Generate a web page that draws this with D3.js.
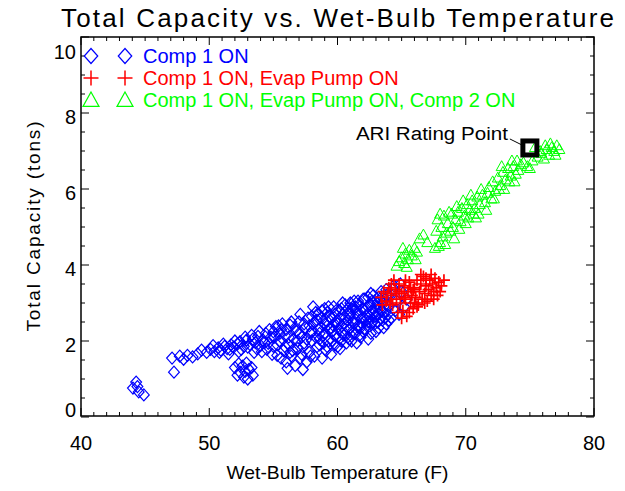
<!DOCTYPE html>
<html>
<head>
<meta charset="utf-8">
<script src="https://cdn.jsdelivr.net/npm/d3@7"></script>
<style>
  body { margin: 0; background: #fff; }
  svg { display: block; font-family: "Liberation Sans", Arial, sans-serif; }
</style>
</head>
<body>
<div id="chart"></div>
<script>
// Comp 1 ON only: [wet-bulb F, capacity tons]
const comp1Only = [
  [44.05, 0.76], [44.3, 0.92], [44.5, 0.66], [44.9, 0.58], [44.4, 0.8],
  [47.1, 1.55], [47.25, 1.18], [47.7, 1.6], [48.0, 1.52], [48.3, 1.62], [48.7, 1.58],
  [49.1, 1.66], [49.4, 1.76], [49.8, 1.7],
  [50.1, 1.78], [50.4, 1.72], [50.7, 1.82], [50.9, 1.76], [51.2, 1.86], [51.4, 1.8],
  [51.7, 1.9], [51.9, 1.84], [52.2, 1.92], [52.4, 1.98], [52.7, 1.86], [52.9, 2.02],
  [51.5, 1.66], [52.3, 1.72],
  [50.3, 1.88], [50.8, 1.7], [51.1, 1.92], [51.6, 1.78], [52.0, 2.0], [52.5, 1.78],
  [53.0, 1.84], [53.3, 2.15], [53.9, 2.25], [54.1, 1.72], [54.3, 1.95], [54.7, 2.3],
  [54.9, 1.65], [53.5, 1.7], [52.8, 2.1],
  [52.0, 1.3], [52.3, 1.4], [52.6, 1.34], [52.9, 1.42], [52.4, 1.18], [52.8, 1.2],
  [53.1, 1.25], [53.4, 1.1], [52.7, 1.05], [53.0, 1.0], [53.3, 1.3], [52.2, 1.1],
  [53.2, 1.9], [53.4, 2.05], [53.6, 1.96], [53.8, 2.12], [54.0, 1.88], [54.2, 2.02],
  [54.4, 2.2], [54.6, 1.94], [54.8, 2.1], [55.0, 2.24], [53.7, 1.8], [54.5, 1.78],
  [55.0, 1.86], [55.2, 2.38],
  [55.3, 1.62], [55.5, 2.0], [55.6, 2.3], [55.8, 1.75], [55.9, 2.15], [56.0, 1.45],
  [56.2, 1.9], [56.3, 2.42], [56.4, 1.6], [56.6, 2.05], [56.7, 1.35], [56.8, 2.25],
  [56.9, 1.8], [57.0, 2.5], [57.1, 1.55], [57.2, 2.1], [57.4, 1.95], [57.5, 2.35],
  [57.6, 1.45], [57.7, 2.6], [57.8, 1.7], [57.9, 2.2], [58.0, 2.0], [55.4, 2.4],
  [56.1, 1.28], [57.3, 1.25],
  [55.1, 2.1], [55.3, 1.9], [55.5, 2.2], [55.7, 2.45], [55.9, 1.85], [56.0, 2.3],
  [56.2, 2.1], [56.4, 2.5], [56.5, 1.75], [56.7, 2.35], [56.9, 2.0], [57.0, 2.2],
  [57.1, 2.7], [57.3, 1.85], [57.4, 2.45], [57.6, 2.05], [57.8, 2.4], [57.9, 1.6],
  [58.0, 2.65], [55.6, 1.55], [56.3, 1.7], [57.2, 1.65],
  [58.1, 2.45], [58.2, 1.6], [58.3, 2.75], [58.4, 1.85], [58.5, 2.3], [58.6, 2.05],
  [58.7, 2.6], [58.8, 1.55], [58.9, 2.15], [59.0, 2.85], [59.1, 1.75], [59.2, 2.4],
  [59.3, 2.0], [59.4, 2.65], [59.5, 1.65], [59.6, 2.25], [59.7, 2.9], [59.8, 1.9],
  [59.9, 2.5], [60.0, 2.1], [58.4, 2.55], [59.2, 2.75], [58.9, 1.95], [59.8, 2.7],
  [59.5, 2.35],
  [58.0, 2.25], [58.2, 2.5], [58.3, 2.1], [58.5, 2.7], [58.6, 1.9], [58.7, 2.35],
  [58.8, 2.8], [59.0, 2.2], [59.1, 2.55], [59.2, 1.85], [59.3, 2.9], [59.4, 2.3],
  [59.5, 2.6], [59.6, 2.0], [59.7, 2.4], [59.8, 2.15], [59.9, 2.8], [60.0, 2.45],
  [60.0, 1.85], [58.1, 2.9], [59.0, 2.45], [58.6, 2.2],
  [60.1, 2.8], [60.2, 1.8], [60.3, 2.4], [60.4, 3.0], [60.5, 2.15], [60.6, 2.6],
  [60.7, 1.95], [60.8, 2.85], [60.9, 2.3], [61.0, 2.7], [61.1, 2.0], [61.2, 2.5],
  [61.3, 3.05], [61.4, 2.2], [61.5, 2.75], [61.6, 2.4], [61.7, 2.95], [61.8, 2.1],
  [61.9, 2.6], [62.0, 2.85], [60.3, 2.0], [60.8, 2.55], [61.5, 1.95], [61.2, 2.9],
  [60.6, 2.3], [61.8, 2.35],
  [60.1, 2.3], [60.2, 2.6], [60.3, 2.85], [60.4, 2.2], [60.5, 2.45], [60.6, 2.95],
  [60.7, 2.4], [60.8, 2.1], [60.9, 2.7], [61.0, 2.35], [61.1, 2.85], [61.2, 2.2],
  [61.3, 2.6], [61.4, 2.9], [61.5, 2.3], [61.6, 2.65], [61.7, 2.15], [61.8, 2.8],
  [61.9, 2.45], [62.0, 3.1], [62.0, 2.25], [60.4, 2.7], [61.0, 3.0], [61.6, 3.05],
  [60.9, 2.05], [61.3, 2.45],
  [62.1, 3.1], [62.2, 2.3], [62.3, 2.7], [62.4, 2.5], [62.5, 2.95], [62.6, 2.2],
  [62.7, 2.8], [62.8, 3.2], [62.9, 2.45], [63.0, 2.65], [63.1, 3.0], [63.2, 2.35],
  [63.3, 2.85], [63.4, 3.3], [63.5, 2.55], [63.6, 2.75], [63.7, 3.1], [63.8, 2.45],
  [63.9, 2.95], [64.0, 3.2], [62.4, 2.05], [63.0, 2.25], [63.6, 2.35], [62.7, 3.05],
  [63.2, 3.15],
  [62.1, 2.6], [62.2, 2.85], [62.3, 2.4], [62.4, 3.15], [62.5, 2.65], [62.6, 2.95],
  [62.7, 2.5], [62.8, 2.75], [62.9, 3.05], [63.0, 2.9], [63.1, 2.5], [63.2, 2.7],
  [63.3, 3.1], [63.4, 2.6], [63.5, 3.0], [63.6, 2.9], [63.7, 2.6], [63.8, 3.2],
  [63.9, 2.7], [64.0, 2.9], [62.2, 2.55], [62.9, 2.65], [63.5, 2.8], [64.0, 2.55],
  [62.6, 3.25], [63.8, 3.35],
  [64.2, 2.6], [64.3, 3.35], [64.5, 2.8], [64.6, 3.05], [64.8, 2.7], [65.0, 3.3],
  [65.2, 2.9], [65.4, 3.1], [64.4, 3.45], [64.9, 3.5]
];

// Comp 1 ON, Evap Pump ON
const evapPumpOn = [
  [63.4, 3.15], [63.6, 3.3], [63.8, 3.05], [64.0, 3.4], [64.2, 3.2], [64.3, 2.95],
  [64.5, 3.35], [64.6, 3.1], [64.8, 3.5], [64.9, 3.0], [65.0, 3.25], [65.1, 2.8],
  [65.2, 3.45], [65.3, 3.1], [65.4, 2.65], [65.5, 3.3], [65.6, 3.55], [65.7, 3.0],
  [65.8, 3.2], [65.9, 2.85], [66.0, 3.4], [66.1, 3.15], [66.2, 3.6], [66.3, 2.95],
  [66.4, 3.3], [66.5, 3.5], [66.6, 3.1], [66.7, 3.7], [66.8, 3.25], [66.9, 3.45],
  [67.0, 3.05], [67.1, 3.35], [67.2, 3.6], [67.3, 3.2], [67.4, 3.5], [67.5, 3.3],
  [67.6, 3.65], [67.7, 3.4], [67.9, 3.55], [68.1, 3.45], [68.3, 3.6], [64.1, 3.0],
  [64.7, 2.75], [65.0, 2.6], [65.6, 2.75], [66.2, 2.9], [65.3, 3.6], [64.4, 3.6],
  [66.8, 3.0], [67.8, 3.2], [63.9, 3.25], [65.9, 3.35], [66.5, 3.75], [64.6, 3.25],
  [63.5, 2.95], [64.2, 3.5], [65.7, 3.4], [66.0, 3.0], [66.9, 3.65], [67.5, 3.1],
  [67.3, 3.75], [68.0, 3.3], [65.2, 3.15], [64.8, 3.3]
];

// Comp 1 ON, Evap Pump ON, Comp 2 ON
const comp2On = [
  [64.6, 3.98], [64.8, 4.1], [65.0, 4.2], [65.2, 4.05], [65.3, 4.3], [65.5, 4.15],
  [65.6, 4.4], [65.8, 4.25], [66.0, 4.45], [66.2, 4.35], [66.4, 4.7], [66.7, 4.8],
  [67.0, 4.6], [65.1, 4.45], [65.4, 3.95], [66.1, 4.15],
  [67.6, 4.45], [67.7, 4.9], [67.8, 5.2], [68.0, 4.6], [68.1, 5.0], [68.2, 4.75],
  [68.3, 5.3], [68.5, 4.85], [68.6, 5.1], [68.8, 4.9], [68.9, 5.35], [69.0, 5.0],
  [69.2, 5.2], [69.4, 5.4], [69.6, 5.15], [67.9, 4.5], [68.0, 5.35], [68.4, 4.55],
  [68.7, 5.4], [69.1, 4.7], [69.3, 5.55], [69.5, 4.95],
  [69.7, 5.5], [69.9, 5.3], [70.1, 5.6], [70.3, 5.45], [70.5, 5.7], [70.7, 5.5],
  [70.9, 5.8], [71.1, 5.6], [71.3, 5.85], [71.5, 5.65], [71.7, 5.9], [72.0, 5.75],
  [71.0, 5.35], [70.2, 5.25], [70.0, 5.1], [70.4, 5.85], [70.8, 5.25], [71.2, 6.0],
  [71.6, 5.45], [69.8, 5.7], [70.6, 5.35],
  [71.8, 6.05], [72.1, 6.2], [72.3, 5.95], [72.5, 6.3], [72.7, 6.1], [72.9, 6.45],
  [73.1, 6.25], [73.3, 6.55], [73.5, 6.35], [73.7, 6.6], [73.9, 6.4], [74.1, 6.5],
  [72.6, 6.0], [73.4, 6.2], [72.2, 5.75], [72.8, 6.6], [73.0, 6.0], [73.6, 6.75],
  [73.8, 6.2], [74.3, 6.65], [74.0, 6.75],
  [74.5, 6.7], [74.8, 6.6], [75.2, 6.75], [75.6, 6.85], [75.9, 6.95], [76.1, 6.8],
  [76.3, 7.05], [76.5, 6.9], [76.7, 7.1], [76.9, 7.0], [77.1, 7.15], [77.3, 7.05],
  [75.8, 7.0], [76.2, 7.15], [75.4, 7.1], [76.6, 7.2], [77.0, 6.9], [75.0, 6.55]
];

const ariPoint = [75.0, 7.08];

const xTicks = [40, 50, 60, 70, 80];
const yTicks = [0, 2, 4, 6, 8, 10];
const seriesNames = ["Comp 1 ON", "Comp 1 ON, Evap Pump ON", "Comp 1 ON, Evap Pump ON, Comp 2 ON"];
const seriesColors = ["#0000ff", "#ff0000", "#00ff00"];

const width = 625, height = 491;
const margin = { top: 37, right: 31, bottom: 75, left: 81 };

const svg = d3.select("#chart").append("svg")
  .attr("width", width)
  .attr("height", height);

const x = d3.scaleLinear().domain([40, 80]).range([margin.left, width - margin.right]);
const y = d3.scaleLinear().domain([0, 10]).range([height - margin.bottom + 1, margin.top]);

// marker shapes
const symbols = {
  diamond: (r) => `M0,${-r}L${r * 0.9},0L0,${r}L${-r * 0.9},0Z`,
  cross: (r) => `M${-r},0H${r}M0,${-r}V${r}`,
  triangle: (r) => `M0,${-r}L${r},${r * 0.8}L${-r},${r * 0.8}Z`,
};

const plotBottom = height - margin.bottom;

function drawSeries(data, shape, r, color, sw) {
  svg.append("g")
    .selectAll("path")
    .data(data)
    .join("path")
    .attr("transform", (d) => `translate(${x(d[0])},${y(d[1])})`)
    .attr("d", symbols[shape](r))
    .attr("fill", "none")
    .attr("stroke", color)
    .attr("stroke-width", sw);
}

drawSeries(comp1Only, "diamond", 6, seriesColors[0], 1.2);
drawSeries(evapPumpOn, "cross", 6, seriesColors[1], 1.7);
drawSeries(comp2On, "triangle", 5.5, seriesColors[2], 1);

// axes with inward ticks on all four sides
const axisG = svg.append("g").attr("stroke", "#000").attr("fill", "none");
axisG.append("rect")
  .attr("x", x(40)).attr("y", margin.top)
  .attr("width", x(80) - x(40)).attr("height", plotBottom - margin.top)
  .attr("stroke-width", 1.5);

d3.range(40, 81, 1).forEach((v) => {
  const len = v % 10 === 0 ? 8 : 4;
  axisG.append("line").attr("x1", x(v)).attr("x2", x(v))
    .attr("y1", plotBottom).attr("y2", plotBottom - len);
  axisG.append("line").attr("x1", x(v)).attr("x2", x(v))
    .attr("y1", margin.top).attr("y2", margin.top + len);
});
d3.range(0, 10.01, 0.5).forEach((v) => {
  const len = v % 2 === 0 ? 8 : 4;
  axisG.append("line").attr("y1", y(v)).attr("y2", y(v))
    .attr("x1", x(40)).attr("x2", x(40) + len);
  axisG.append("line").attr("y1", y(v)).attr("y2", y(v))
    .attr("x1", x(80)).attr("x2", x(80) - len);
});

svg.append("g")
  .selectAll("text")
  .data(xTicks)
  .join("text")
  .attr("x", (d) => x(d))
  .attr("y", 443)
  .attr("dy", "0.35em")
  .attr("text-anchor", "middle")
  .attr("font-size", 20)
  .text((d) => d);

svg.append("g")
  .selectAll("text")
  .data(yTicks)
  .join("text")
  .attr("x", x(40) - 5)
  .attr("y", (d) => y(d) + (d === 10 ? 15 : d === 0 ? -7 : 4))
  .attr("dy", "0.35em")
  .attr("text-anchor", "end")
  .attr("font-size", 20)
  .text((d) => d);

// titles
svg.append("text")
  .attr("x", (x(40) + x(80)) / 2)
  .attr("y", 18)
  .attr("dy", "0.35em")
  .attr("text-anchor", "middle")
  .attr("font-size", 26)
  .attr("textLength", 553)
  .attr("lengthAdjust", "spacing")
  .text("Total Capacity vs. Wet-Bulb Temperature");

svg.append("text")
  .attr("x", (x(40) + x(80)) / 2)
  .attr("y", 472)
  .attr("dy", "0.35em")
  .attr("text-anchor", "middle")
  .attr("font-size", 19)
  .attr("textLength", 222)
  .attr("lengthAdjust", "spacingAndGlyphs")
  .text("Wet-Bulb Temperature (F)");

svg.append("text")
  .attr("transform", `translate(33,${(margin.top + plotBottom) / 2}) rotate(-90)`)
  .attr("dy", "0.35em")
  .attr("text-anchor", "middle")
  .attr("font-size", 19)
  .attr("textLength", 210)
  .attr("lengthAdjust", "spacing")
  .text("Total Capacity (tons)");

// legend
const legendShapes = ["diamond", "cross", "triangle"];
const legendRows = [56, 78, 100];
seriesNames.forEach((name, i) => {
  [91, 125].forEach((lx) => {
    svg.append("path")
      .attr("transform", `translate(${lx},${legendRows[i]})`)
      .attr("d", symbols[legendShapes[i]](i === 2 ? 8 : 7.5))
      .attr("fill", "none")
      .attr("stroke", seriesColors[i])
      .attr("stroke-width", i === 1 ? 1.5 : 1.2);
  });
  svg.append("text")
    .attr("x", 143)
    .attr("y", legendRows[i])
    .attr("dy", "0.35em")
    .attr("font-size", 20)
    .attr("fill", seriesColors[i])
    .text(name);
});

// ARI rating point
const ax = x(ariPoint[0]), ay = y(ariPoint[1]);
svg.append("rect")
  .attr("x", ax - 7).attr("y", ay - 7)
  .attr("width", 14).attr("height", 14)
  .attr("fill", "none")
  .attr("stroke", "#000")
  .attr("stroke-width", 5);
svg.append("line")
  .attr("x1", ax - 20).attr("y1", ay - 9)
  .attr("x2", ax - 6).attr("y2", ay - 2)
  .attr("stroke", "#000");
svg.append("text")
  .attr("x", ax - 22)
  .attr("y", ay - 14)
  .attr("dy", "0.35em")
  .attr("text-anchor", "end")
  .attr("font-size", 18)
  .attr("textLength", 152)
  .attr("lengthAdjust", "spacingAndGlyphs")
  .text("ARI Rating Point");
</script>
</body>
</html>
